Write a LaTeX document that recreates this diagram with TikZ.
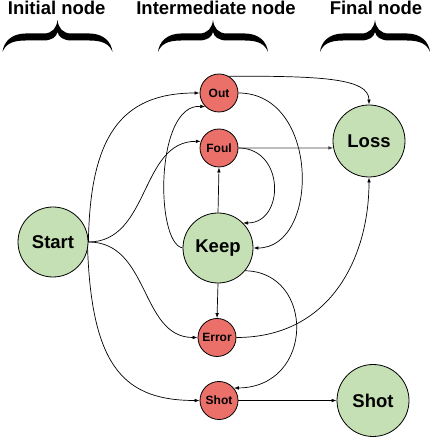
\documentclass[tikz,border=0pt]{standalone}
\usepackage{fontspec}
\setmainfont{Liberation Sans}
\usetikzlibrary{arrows.meta}
\definecolor{ngreen}{HTML}{C5E0B4}
\definecolor{nred}{HTML}{EC706A}
\begin{document}
\begin{tikzpicture}[x=1pt,y=1pt,
  bignode/.style={circle, draw=black, line width=0.8pt, fill=ngreen, minimum size=70pt, inner sep=0pt, font=\fontsize{18.5}{20}\selectfont\bfseries},
  smallnode/.style={circle, draw=black, line width=0.8pt, fill=nred, minimum size=38pt, inner sep=0pt, font=\fontsize{12}{14}\selectfont\bfseries},
  edge/.style={line width=0.7pt, -{Latex[length=5pt,width=3.6pt]}},
  header/.style={anchor=base, inner sep=0pt, font=\fontsize{18.5}{20}\selectfont\bfseries},
  bracepic/.pic={
    \fill[black] (-55,0) .. controls (-54,10) and (-46,18.5) .. (-32,18.5) -- (-14,18.5)
      .. controls (-5,18.5) and (-1,24) .. (0,32)
      .. controls (1,24) and (5,18.5) .. (14,18.5) -- (32,18.5)
      .. controls (46,18.5) and (54,10) .. (55,0)
      .. controls (52,8) and (45,11.5) .. (32,11.5) -- (14,11.5)
      .. controls (6,11.5) and (1,15) .. (0,20)
      .. controls (-1,15) and (-6,11.5) .. (-14,11.5) -- (-32,11.5)
      .. controls (-45,11.5) and (-52,8) .. (-55,0) -- cycle;
  }
]
\useasboundingbox (0,0) rectangle (432,438);

% headers
\node[header] (h1) at (56.7,423) {Initial node};
\node[header] (h2) at (216,423) {Intermediate node};
\node[header] (h3) at (376,423) {Final node};
\pic at (57.5,386) {bracepic};
\pic at (213,386) {bracepic};
\pic at (375,386) {bracepic};

% nodes
\node[bignode] (Start) at (53,196) {Start};
\node[bignode] (Keep) at (218,190) {Keep};
\node[bignode, minimum size=72pt] (Loss) at (369,297) {Loss};
\node[bignode, minimum size=72pt] (ShotB) at (373,37.5) {Shot};
\node[smallnode] (Out) at (219,345) {Out};
\node[smallnode] (Foul) at (219,290) {Foul};
\node[smallnode] (Error) at (217,100.5) {Error};
\node[smallnode] (ShotS) at (219,37.5) {Shot};

% edges from Start
\draw[edge] (Start.east) .. controls (90,300) and (120,345) .. (Out.west);
\draw[edge] (Start.east) .. controls (150,196) and (140,297) .. (Foul.160);
\draw[edge] (Start.east) .. controls (150,196) and (140,100.5) .. (Error.west);
\draw[edge] (Start.-12) .. controls (92,70) and (125,37.5) .. (ShotS.west);

% edges from Keep
\draw[edge] (Keep.west) .. controls (155,195) and (155,335) .. (Out.225);
\draw[edge] (Keep.north) -- (Foul.south);
\draw[edge] (Keep.south) -- (Error.north);
\draw[edge] (Keep.-40) .. controls (315,166) and (315,51) .. (ShotS.40);

% edges into Keep
\draw[edge] (Foul.east) .. controls (285,290) and (285,215) .. (Keep.45);
\draw[edge] (Out.east) .. controls (320,345) and (320,190) .. (Keep.east);

% edges to final nodes
\draw[edge] (Out.60) .. controls (320,362) and (369,360) .. (Loss.north);
\draw[edge, black!75] (Foul.east) -- (Loss.191);
\draw[edge] (Error.east) .. controls (330,100.5) and (369,180) .. (Loss.south);
\draw[edge] (ShotS.east) -- (ShotB.west);
\end{tikzpicture}
\end{document}
